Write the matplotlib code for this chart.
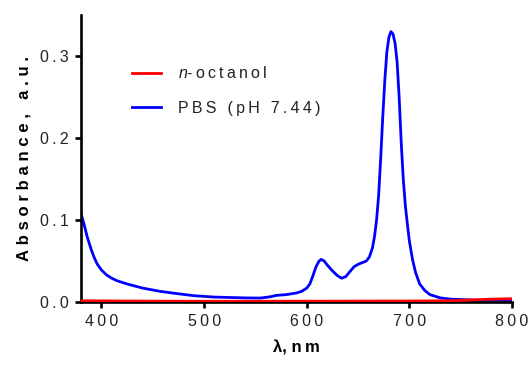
import matplotlib
matplotlib.use("Agg")
import matplotlib.pyplot as plt

plt.rcParams['font.family'] = ['Liberation Sans', 'DejaVu Sans']
plt.rcParams['mathtext.fontset'] = 'custom'
plt.rcParams['mathtext.it'] = 'Liberation Sans:italic'
plt.rcParams['mathtext.rm'] = 'Liberation Sans'

# Data
wl_pbs = [380, 383, 386, 390, 393, 396, 400, 405, 410, 415, 425, 440, 457, 475, 490,
          510, 540, 555, 565, 570, 580, 590, 595, 600, 603, 606, 609, 612, 614, 617,
          620, 625, 630, 634, 638, 642, 646, 650, 654, 658, 661, 664, 666, 668, 670,
          672, 674, 676, 678, 680, 682, 684, 686, 688, 690, 692, 694, 696, 698,
          700, 703, 706, 710, 715, 720, 730, 740, 750, 770, 800]
abs_pbs = [0.108, 0.095, 0.080, 0.064, 0.054, 0.046, 0.039, 0.033, 0.029, 0.026, 0.022,
           0.017, 0.013, 0.010, 0.0077, 0.006, 0.005, 0.0048, 0.0065, 0.008, 0.009,
           0.011, 0.013, 0.017, 0.022, 0.032, 0.043, 0.050, 0.052, 0.050, 0.045, 0.038,
           0.032, 0.029, 0.031, 0.037, 0.043, 0.046, 0.048, 0.050, 0.055, 0.066, 0.080,
           0.100, 0.130, 0.175, 0.225, 0.270, 0.305, 0.323, 0.330, 0.327, 0.316, 0.293,
           0.250, 0.195, 0.150, 0.118, 0.095, 0.074, 0.052, 0.036, 0.022, 0.014, 0.009,
           0.005, 0.0035, 0.003, 0.002, 0.002]

wl_oct = [380, 420, 460, 500, 540, 580, 620, 660, 700, 740, 760, 780, 800]
abs_oct = [0.0015, 0.0012, 0.0010, 0.0009, 0.0009, 0.0010, 0.0010, 0.0011, 0.0012,
           0.0015, 0.0025, 0.0035, 0.0040]

x_ticks = [400, 500, 600, 700, 800]
y_ticks = [0.0, 0.1, 0.2, 0.3]

def spaced(s, sep='\u2009'):
    return sep.join(s)

fig = plt.figure(figsize=(5.29, 3.71), dpi=100)
ax = fig.add_axes([0.153, 0.186, 0.815, 0.773])

ax.plot(wl_oct, abs_oct, color='#ff0000', lw=2.0, label=r'$\mathit{n}$' + spaced('-octanol'), zorder=3)
ax.plot(wl_pbs, abs_pbs, color='#0000ff', lw=2.0, label=spaced('PBS (pH 7.44)'), zorder=2)

ax.set_xlim(380, 800)
ax.set_ylim(0, 0.35)
ax.set_xticks(x_ticks)
ax.set_xticklabels([spaced(str(v)) for v in x_ticks])
ax.set_yticks(y_ticks)
ax.set_yticklabels([spaced(f'{v:.1f}') for v in y_ticks])

for s in ['top', 'right']:
    ax.spines[s].set_visible(False)
for s in ['left', 'bottom']:
    ax.spines[s].set_linewidth(1.9)
ax.tick_params(axis='both', direction='out', length=4, width=1.9, labelsize=11.5, colors='black',
               labelcolor='#222222', pad=5)

ax.set_ylabel(spaced('Absorbance, a.u.', '\u2009\u200a'), fontsize=12, fontweight='bold', labelpad=6)
ax.set_xlabel('λ, ' + spaced('nm'), fontsize=12, fontweight='bold', labelpad=8)

leg = ax.legend(loc='upper left', bbox_to_anchor=(0.085, 0.875), frameon=False, fontsize=11.5,
                handlelength=1.8, handletextpad=1.1, labelspacing=1.2)
for t in leg.get_texts():
    t.set_color('#222222')

fig.savefig('out.png', dpi=100)
